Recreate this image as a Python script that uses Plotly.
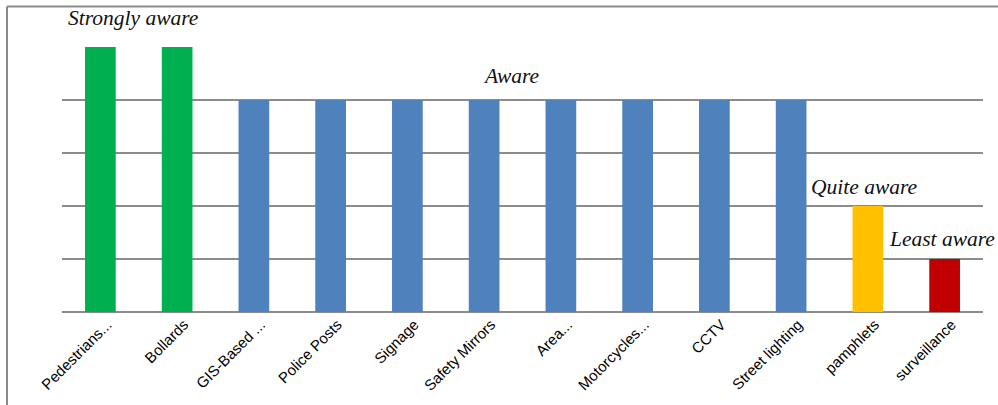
import plotly.graph_objects as go

categories = ["Pedestrians...", "Bollards", "GIS-Based ...", "Police Posts", "Signage",
              "Safety Mirrors", "Area...", "Motorcycles...", "CCTV", "Street lighting",
              "pamphlets", "surveillance"]
values = [5, 5, 4, 4, 4, 4, 4, 4, 4, 4, 2, 1]
colors = ["#00B050", "#00B050", "#4F81BD", "#4F81BD", "#4F81BD", "#4F81BD", "#4F81BD",
          "#4F81BD", "#4F81BD", "#4F81BD", "#FFC000", "#C00000"]

labels = ["Strongly aware", "Aware", "Quite aware", "Least aware"]
label_x = [0.43, 5.36, 9.96, 10.97]
label_y = [5.55, 4.45, 2.35, 1.37]

W, H = 998, 405
ml, mr, mt, mb = 62, 15, 47, 93
pw, ph = W - ml - mr, H - mt - mb
ymax = 5

fig = go.Figure(go.Bar(x=categories, y=values, marker=dict(color=colors, line=dict(width=0)),
                       cliponaxis=False))

for t, x, y in zip(labels, label_x, label_y):
    fig.add_annotation(x=x, xref="x", y=y / ymax, yref="paper", text="<i>" + t + "</i>",
                       showarrow=False,
                       font=dict(family="Liberation Serif", size=21.5, color="#111111"),
                       xanchor="center", yanchor="middle")

# outer frame (left and top edges)
px = lambda p: (p - ml) / pw
py = lambda p: (H - mb - p) / ph
fig.add_shape(type="line", xref="paper", yref="paper", x0=px(7), x1=px(7), y0=py(6.5), y1=py(406),
              line=dict(color="#8C8C8C", width=2))
fig.add_shape(type="line", xref="paper", yref="paper", x0=px(7), x1=px(1000), y0=py(6.5), y1=py(6.5),
              line=dict(color="#8C8C8C", width=2))

fig.update_layout(
    width=W, height=H, margin=dict(l=ml, r=mr, t=mt, b=mb, autoexpand=False),
    paper_bgcolor="white", plot_bgcolor="white", bargap=0.6, showlegend=False,
    xaxis=dict(tickangle=-45, tickfont=dict(family="Liberation Sans", size=15, color="black"),
               ticklabelshift=7, showgrid=False, showline=False, ticks="", automargin=False,
               range=[-0.5, len(categories) - 0.5]),
    yaxis=dict(range=[0, ymax], dtick=1, showticklabels=False, showgrid=True,
               gridcolor="#8C8C8C", gridwidth=2, zeroline=True, zerolinecolor="#8C8C8C",
               zerolinewidth=2, showline=False, automargin=False),
)

fig.write_html(
    "out.html",
    config={"displayModeBar": False, "responsive": False},
    post_script=("document.body.style.margin='0';document.body.style.overflow='hidden';"
                 "Plotly.relayout('{plot_id}', {width: %d, height: %d});" % (W, H)),
)
